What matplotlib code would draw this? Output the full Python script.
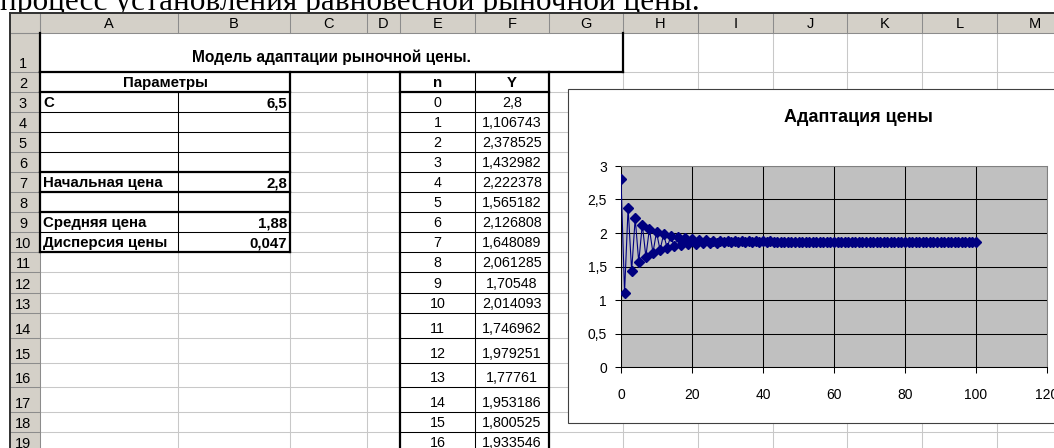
import matplotlib
matplotlib.use('Agg')
import matplotlib.pyplot as plt
from matplotlib.patches import Rectangle
from matplotlib.ticker import FuncFormatter, MultipleLocator

plt.rcParams['font.family'] = ['Liberation Sans', 'DejaVu Sans']

# ---- data ----
page_text = 'процесс установления равновесной рыночной цены.'
col_letters = ['A', 'B', 'C', 'D', 'E', 'F', 'G', 'H', 'I', 'J', 'K', 'L', 'M']
sheet_title = 'Модель адаптации рыночной цены.'
params_header = 'Параметры'
param_names = ['C', 'Начальная цена', 'Средняя цена', 'Дисперсия цены']
param_values = [6.5, 2.8, 1.88, 0.047]
param_rows = [3, 7, 9, 10]
table_n = [0, 1, 2, 3, 4, 5, 6, 7, 8, 9, 10, 11, 12, 13, 14, 15, 16]
table_y = [2.8, 1.106743, 2.378525, 1.432982, 2.222378, 1.565182, 2.126808,
           1.648089, 2.061285, 1.70548, 2.014093, 1.746962, 1.979251, 1.77761,
           1.953186, 1.800525, 1.933546]
# rest of the series (n = 17..100), estimated from the chart
price_tail = [1.8178, 1.9187, 1.8308, 1.9074, 1.8407, 1.8989, 1.8482, 1.8924,
              1.8538, 1.8874, 1.8582, 1.8837, 1.8614, 1.8808, 1.8639, 1.8787,
              1.8658, 1.8770, 1.8673, 1.8758, 1.8683, 1.8748, 1.8692, 1.8741,
              1.8698, 1.8735, 1.8703, 1.8731, 1.8707, 1.8728, 1.8709, 1.8726,
              1.8711, 1.8724, 1.8713, 1.8722, 1.8714, 1.8721, 1.8715, 1.8721,
              1.8716, 1.8720, 1.8716, 1.8720, 1.8717, 1.8719, 1.8717, 1.8719,
              1.8717, 1.8719, 1.8718, 1.8719, 1.8718, 1.8718,
              1.8718, 1.8718, 1.8718, 1.8718, 1.8718, 1.8718, 1.8718, 1.8718,
              1.8718, 1.8718, 1.8718, 1.8718, 1.8718, 1.8718, 1.8718, 1.8718,
              1.8718, 1.8718, 1.8718, 1.8718, 1.8718, 1.8718, 1.8718, 1.8718,
              1.8718, 1.8718, 1.8718, 1.8718, 1.8718, 1.8718]
price = table_y + price_tail
chart_title = 'Адаптация цены'

# ---- layout of the sheet in pixels ----
W, H = 1054, 448
col_edges = [10, 40, 178, 290, 367, 400, 475, 549, 623, 698, 773, 847, 922, 997, 1072]
row_edges = [13, 33, 72, 92, 112, 132, 152, 172, 192, 212, 232, 252, 272, 293,
             313, 338, 363, 387, 412, 432, 452]
THIN, THICK = 0.75, 1.6
GRID = '#c8c8c8'
HDR = '#d4d0c8'


def num(v):
    s = ('%.6f' % v).rstrip('0').rstrip('.')
    return s.replace('.', ',')


fig = plt.figure(figsize=(W / 100, H / 100), dpi=100)
bg = fig.add_axes([0, 0, 1, 1])
bg.set_xlim(0, W)
bg.set_ylim(H, 0)
bg.axis('off')


def line(x0, y0, x1, y1, lw=THIN, c='black', z=3):
    bg.plot([x0, x1], [y0, y1], color=c, lw=lw, solid_capstyle='projecting', zorder=z)


# text of the page above the sheet (cut off)
bg.text(0, 10, page_text, family='Liberation Serif', fontsize=22.5, va='baseline', zorder=0)

# sheet gridlines
for y in row_edges[2:]:
    line(40, y, W, y, c=GRID, z=1)
for x in col_edges[2:]:
    y0 = row_edges[1]
    if 178 <= x <= 549:
        y0 = row_edges[2]
    if x == 178:
        y0 = row_edges[3]
    line(x, y0, x, H, c=GRID, z=1)

# headers
bg.add_patch(Rectangle((10, 13), W, 20, facecolor=HDR, edgecolor='none', zorder=2))
bg.add_patch(Rectangle((10, 13), 30, H, facecolor=HDR, edgecolor='none', zorder=2))
for x in col_edges[1:]:
    line(x, 13, x, 33, c='#8c8c8c', z=2.5)
for y in row_edges[1:]:
    line(10, y, 40, y, c='#8c8c8c', z=2.5)
line(10, 33, W, 33, c='#8c8c8c', z=2.5)
line(40, 13, 40, H, c='#8c8c8c', z=2.5)
line(10, 13, W, 13, lw=1.4, c='#303030', z=2.6)
line(10, 13, 10, H, lw=1.4, c='#303030', z=2.6)
for j, letter in enumerate(col_letters):
    xc = (col_edges[j + 1] + col_edges[j + 2]) / 2
    bg.text(xc, 24, letter, ha='center', va='center', fontsize=10.5, zorder=4)
for r in range(1, 20):
    bg.text(23, row_edges[r + 1] - 4, str(r), ha='center', va='baseline',
            fontsize=10.5, zorder=4)

# merged title cell A1:G1
line(40, 33, 40, 72, lw=THICK)
line(623, 33, 623, 72, lw=THICK)
line(40, 72, 623, 72, lw=THICK)
bg.text(331.5, 62, sheet_title, ha='center', va='baseline', fontsize=11.2,
        fontweight='bold', zorder=4)

# parameters block A2:B10
for y in [112, 132, 152, 232]:
    line(40, y, 290, y)
for y in [92, 172, 192, 212, 252]:
    line(40, y, 290, y, lw=THICK)
line(178, 92, 178, 252)
line(40, 72, 40, 252, lw=THICK)
line(290, 72, 290, 252, lw=THICK)
bg.text(165, 87, params_header, ha='center', va='baseline', fontsize=10.8,
        fontweight='bold', zorder=4)
for name, val, r in zip(param_names, param_values, param_rows):
    yb = row_edges[r + 1] - 5
    bg.text(43, yb, name, ha='left', va='baseline', fontsize=10.8, fontweight='bold', zorder=4)
    bg.text(287, yb, num(val), ha='right', va='baseline', fontsize=10.8,
            fontweight='bold', zorder=4)

# n / Y table E2:F19
for y in row_edges[4:20]:
    line(400, y, 549, y)
line(400, 92, 549, 92, lw=THICK)
line(400, 72, 549, 72, lw=THICK)
line(475, 72, 475, H + 5)
line(400, 72, 400, H + 5, lw=THICK)
line(549, 72, 549, H + 5, lw=THICK)
bg.text(437.5, 87, 'n', ha='center', va='baseline', fontsize=10.8, fontweight='bold', zorder=4)
bg.text(512, 87, 'Y', ha='center', va='baseline', fontsize=10.8, fontweight='bold', zorder=4)
for i, (n, y) in enumerate(zip(table_n, table_y)):
    yb = row_edges[4 + i] - 5
    bg.text(437.5, yb, str(n), ha='center', va='baseline', fontsize=10.3, zorder=4)
    bg.text(512, yb, num(y), ha='center', va='baseline', fontsize=10.3, zorder=4)

# chart area
bg.add_patch(Rectangle((568, 89), 600, 334, facecolor='white', edgecolor='#404040',
                       lw=0.8, zorder=10))
bg.text(858, 117, chart_title, ha='center', va='center', fontsize=13,
        fontweight='bold', zorder=11)

x0, x1, yt, yb = 621, 1047, 166, 367
ax = fig.add_axes([x0 / W, 1 - yb / H, (x1 - x0) / W, (yb - yt) / H])
ax.set_facecolor('#c0c0c0')
ax.plot(range(len(price)), price, color='#000080', lw=0.8, marker='D', ms=5,
        mfc='#000080', mec='#000080', zorder=3)
ax.set_xlim(0, 120)
ax.set_ylim(0, 3)
ax.xaxis.set_major_locator(MultipleLocator(20))
ax.yaxis.set_major_locator(MultipleLocator(0.5))
ax.yaxis.set_major_formatter(FuncFormatter(lambda v, p: ('%g' % v).replace('.', ',')))
ax.grid(True, color='black', lw=0.75)
ax.set_axisbelow(True)
for s in ['top', 'right']:
    ax.spines[s].set_color('#808080')
    ax.spines[s].set_linewidth(0.75)
for s in ['left', 'bottom']:
    ax.spines[s].set_color('black')
    ax.spines[s].set_linewidth(0.75)
ax.tick_params(axis='both', direction='out', length=4, width=0.75, labelsize=10,
               colors='black')
ax.tick_params(axis='y', pad=6)
ax.tick_params(axis='x', pad=11)

fig.savefig('out.png', dpi=100)
